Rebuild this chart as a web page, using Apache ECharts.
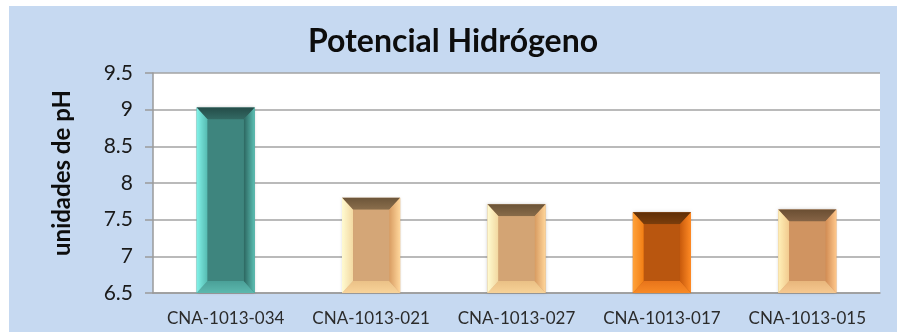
<!DOCTYPE html>
<html>
<head>
<meta charset="utf-8">
<script src="https://cdn.jsdelivr.net/npm/echarts@6/dist/echarts.min.js"></script>
<style>
  html, body { margin: 0; padding: 0; background: #ffffff; }
  #wrap { position: relative; width: 897px; height: 332px; background: #ffffff; overflow: hidden; }
  #chart { position: absolute; left: 9px; top: 6px; width: 888px; height: 326px; }
</style>
</head>
<body>
<div id="wrap"><div id="chart"></div></div>
<script>
// Sample identifiers and measured pH
const categories = ['CNA-1013-034', 'CNA-1013-021', 'CNA-1013-027', 'CNA-1013-017', 'CNA-1013-015'];
const phValues = [9.03, 7.8, 7.71, 7.6, 7.64];
const axisMin = 6.5;
const axisMax = 9.5;
const axisStep = 0.5;

// Bevel shading for each bar: face, left, right, top, bottom
const barPalettes = [
  { face: '#3e857e', left: ['#82f2e8', '#55bab0'], right: ['#2c6660', '#5cc0b4'], top: ['#244c48', '#336a64'], bottom: ['#4aa098', '#5cb8ae'] },
  { face: '#d4a677', left: ['#fffbd2', '#f3d9a2'], right: ['#d89c62', '#ffd79c'], top: ['#6c5539', '#8a6e4c'], bottom: ['#ebc187', '#f8d39a'] },
  { face: '#d3a474', left: ['#fffbd0', '#f2d7a0'], right: ['#d79a60', '#ffd69a'], top: ['#6a5337', '#886b49'], bottom: ['#eac085', '#f7d298'] },
  { face: '#b9560f', left: ['#ffa23a', '#f27e14'], right: ['#c85a0c', '#ff8a24'], top: ['#5e2e06', '#7c3e0c'], bottom: ['#e8741a', '#f88a26'] },
  { face: '#d09461', left: ['#fff0b8', '#f2ca8e'], right: ['#d08a52', '#ffc88c'], top: ['#6a4e32', '#866446'], bottom: ['#e8b67c', '#f6c890'] }
];

function grad(x2, y2, stops) {
  return { type: 'linear', x: 0, y: 0, x2: x2, y2: y2,
    colorStops: [{ offset: 0, color: stops[0] }, { offset: 1, color: stops[1] }] };
}

function renderBevelBar(params, api) {
  const idx = api.value(0);
  const val = api.value(1);
  const topPt = api.coord([idx, val]);
  const basePt = api.coord([idx, axisMin]);
  const bw = api.size([1, 0])[0] * 0.4;
  const x0 = topPt[0] - bw / 2, x1 = topPt[0] + bw / 2;
  const y0 = topPt[1], y1 = basePt[1];
  const bx = Math.min(11, bw / 4);
  const by = Math.min(12, (y1 - y0) / 4);
  const p = barPalettes[idx % barPalettes.length];
  const poly = (pts, fill) => ({ type: 'polygon', shape: { points: pts }, style: { fill: fill } });
  return {
    type: 'group',
    children: [
      { type: 'rect', shape: { x: x0, y: y0, width: bw, height: y1 - y0 },
        style: { fill: p.face, shadowBlur: 3, shadowColor: 'rgba(0,0,0,0.18)' } },
      poly([[x0, y0], [x1, y0], [x1 - bx, y0 + by], [x0 + bx, y0 + by]], grad(0, 1, p.top)),
      poly([[x0, y1], [x1, y1], [x1 - bx, y1 - by], [x0 + bx, y1 - by]], grad(0, 1, p.bottom)),
      poly([[x0, y0], [x0 + bx, y0 + by], [x0 + bx, y1 - by], [x0, y1]], grad(1, 0, p.left)),
      poly([[x1, y0], [x1 - bx, y0 + by], [x1 - bx, y1 - by], [x1, y1]], grad(1, 0, p.right)),
      { type: 'rect', shape: { x: x0 + bx, y: y0 + by, width: bw - 2 * bx, height: y1 - y0 - 2 * by },
        style: { fill: p.face } }
    ]
  };
}

const chart = echarts.init(document.getElementById('chart'), null, { renderer: 'canvas' });
const FONT = 'Lato, "Open Sans", sans-serif';

chart.setOption({
  backgroundColor: '#c6d9f1',
  animation: false,
  title: {
    text: 'Potencial Hidrógeno',
    left: 'center',
    top: 15,
    textStyle: { fontFamily: FONT, fontWeight: 'bold', fontSize: 32, color: '#0d0d0d' }
  },
  grid: { left: 144, right: 17, top: 67, bottom: 39, containLabel: false,
    show: true, backgroundColor: '#ffffff', borderWidth: 0 },
  xAxis: {
    type: 'category',
    data: categories,
    axisLine: { show: true, lineStyle: { color: '#9a9a9a', width: 1.5 } },
    axisTick: { show: false },
    axisLabel: { fontFamily: FONT, fontSize: 17, color: '#2b2b2b', margin: 17, interval: 0 },
    splitLine: { show: false }
  },
  yAxis: {
    type: 'value',
    min: axisMin,
    max: axisMax,
    interval: axisStep,
    axisLine: { show: true, lineStyle: { color: '#9a9a9a', width: 1.5 } },
    axisTick: { show: true, inside: false, length: 8, lineStyle: { color: '#9a9a9a', width: 1.5 } },
    axisLabel: { fontFamily: FONT, fontSize: 21, color: '#1a1a1a', margin: 20 },
    splitLine: { show: true, lineStyle: { color: '#a3a3a3', width: 1.5 } }
  },
  graphic: [{
    type: 'text',
    x: 53, y: 167,
    rotation: Math.PI / 2,
    style: {
      text: 'unidades de pH',
      fontFamily: FONT, fontWeight: 'bold', fontSize: 24, fill: '#0d0d0d',
      align: 'center', verticalAlign: 'middle'
    }
  }],
  series: [{
    type: 'custom',
    renderItem: renderBevelBar,
    encode: { x: 0, y: 1 },
    data: phValues.map((v, i) => [i, v])
  }]
});
</script>
</body>
</html>
